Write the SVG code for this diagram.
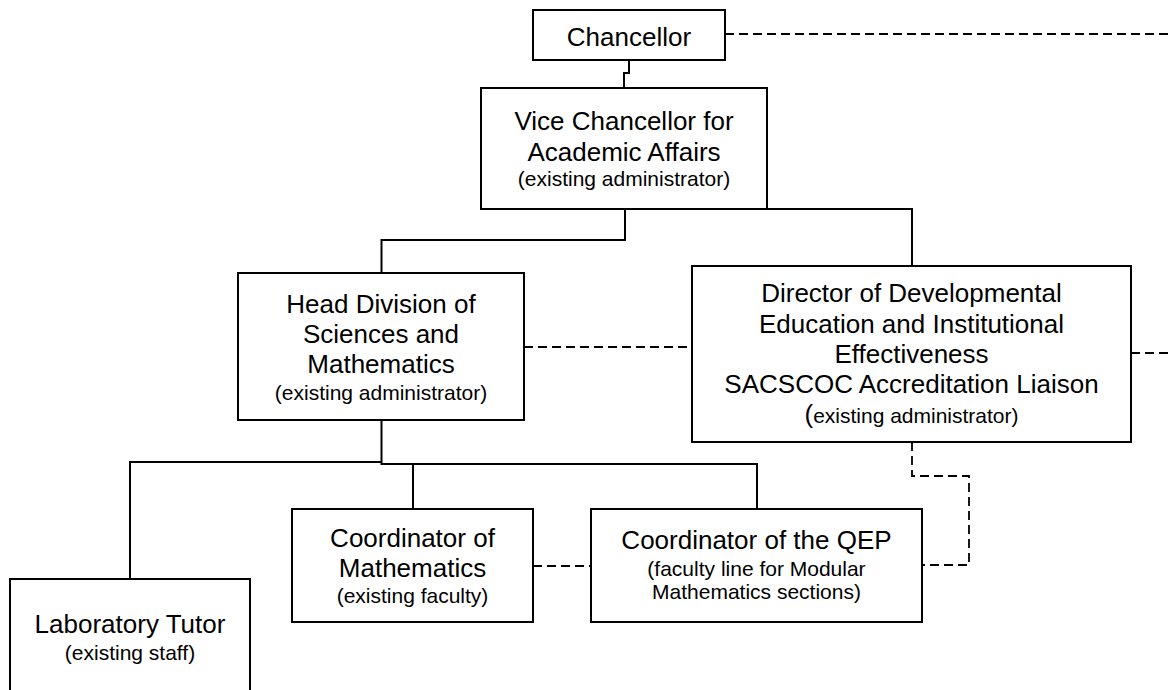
<svg xmlns="http://www.w3.org/2000/svg" width="1170" height="690" viewBox="0 0 1170 690">
<style>
.box{fill:#fff;stroke:#000;stroke-width:2}
.t{font-family:"Liberation Sans",Arial,sans-serif;font-size:26px;fill:#000;text-anchor:middle}
.s{font-size:21px}
.ln{fill:none;stroke:#000;stroke-width:2}
.dl{fill:none;stroke:#000;stroke-width:1.8;stroke-dasharray:9 5}
</style>
<rect width="1170" height="690" fill="#fff"/>
<g id="connectors">
<path class="ln" d="M629,60 V73 H624 V88"/>
<path class="ln" d="M625,209 V240 H381.5 V273"/>
<path class="ln" d="M767,209 H912 V266"/>
<path class="ln" d="M381.5,420 V464 H757 V509"/>
<path class="ln" d="M381.5,462 H130 V579"/>
<path class="ln" d="M413,464 V509"/>
<path class="dl" d="M725,34 H1170"/>
<path class="dl" d="M524,347 H692"/>
<path class="dl" d="M1131,353 H1170"/>
<path class="dl" d="M912,442 V476 H969 V565 H922"/>
<path class="dl" d="M533,566 H591"/>
</g>
<g id="chancellor">
<rect class="box" x="533" y="10" width="192" height="50"/>
<text class="t" x="629" y="46">Chancellor</text>
</g>
<g id="vice-chancellor">
<rect class="box" x="481" y="88" width="286" height="121"/>
<text class="t" x="624" y="130">Vice Chancellor for</text>
<text class="t" x="624" y="161">Academic Affairs</text>
<text class="t s" x="624" y="186">(existing administrator)</text>
</g>
<g id="head-division">
<rect class="box" x="238" y="273" width="286" height="147"/>
<text class="t" x="381" y="313">Head Division of</text>
<text class="t" x="381" y="343">Sciences and</text>
<text class="t" x="381" y="373">Mathematics</text>
<text class="t s" x="381" y="400">(existing administrator)</text>
</g>
<g id="director">
<rect class="box" x="692" y="266" width="439" height="176"/>
<text class="t" x="911.5" y="302">Director of Developmental</text>
<text class="t" x="911.5" y="333">Education and Institutional</text>
<text class="t" x="911.5" y="363">Effectiveness</text>
<text class="t" x="911.5" y="393">SACSCOC Accreditation Liaison</text>
<text class="t s" x="911.5" y="423"><tspan font-size="26">(</tspan>existing administrator)</text>
</g>
<g id="coordinator-math">
<rect class="box" x="292" y="509" width="241" height="113"/>
<text class="t" x="412.5" y="547">Coordinator of</text>
<text class="t" x="412.5" y="577">Mathematics</text>
<text class="t s" x="412.5" y="603">(existing faculty)</text>
</g>
<g id="coordinator-qep">
<rect class="box" x="591" y="509" width="331" height="113"/>
<text class="t" x="756.5" y="549">Coordinator of the QEP</text>
<text class="t s" x="756.5" y="576">(faculty line for Modular</text>
<text class="t s" x="756.5" y="599">Mathematics sections)</text>
</g>
<g id="lab-tutor">
<rect class="box" x="10" y="579" width="240" height="130"/>
<text class="t" x="130" y="633">Laboratory Tutor</text>
<text class="t s" x="130" y="660">(existing staff)</text>
</g>
</svg>
